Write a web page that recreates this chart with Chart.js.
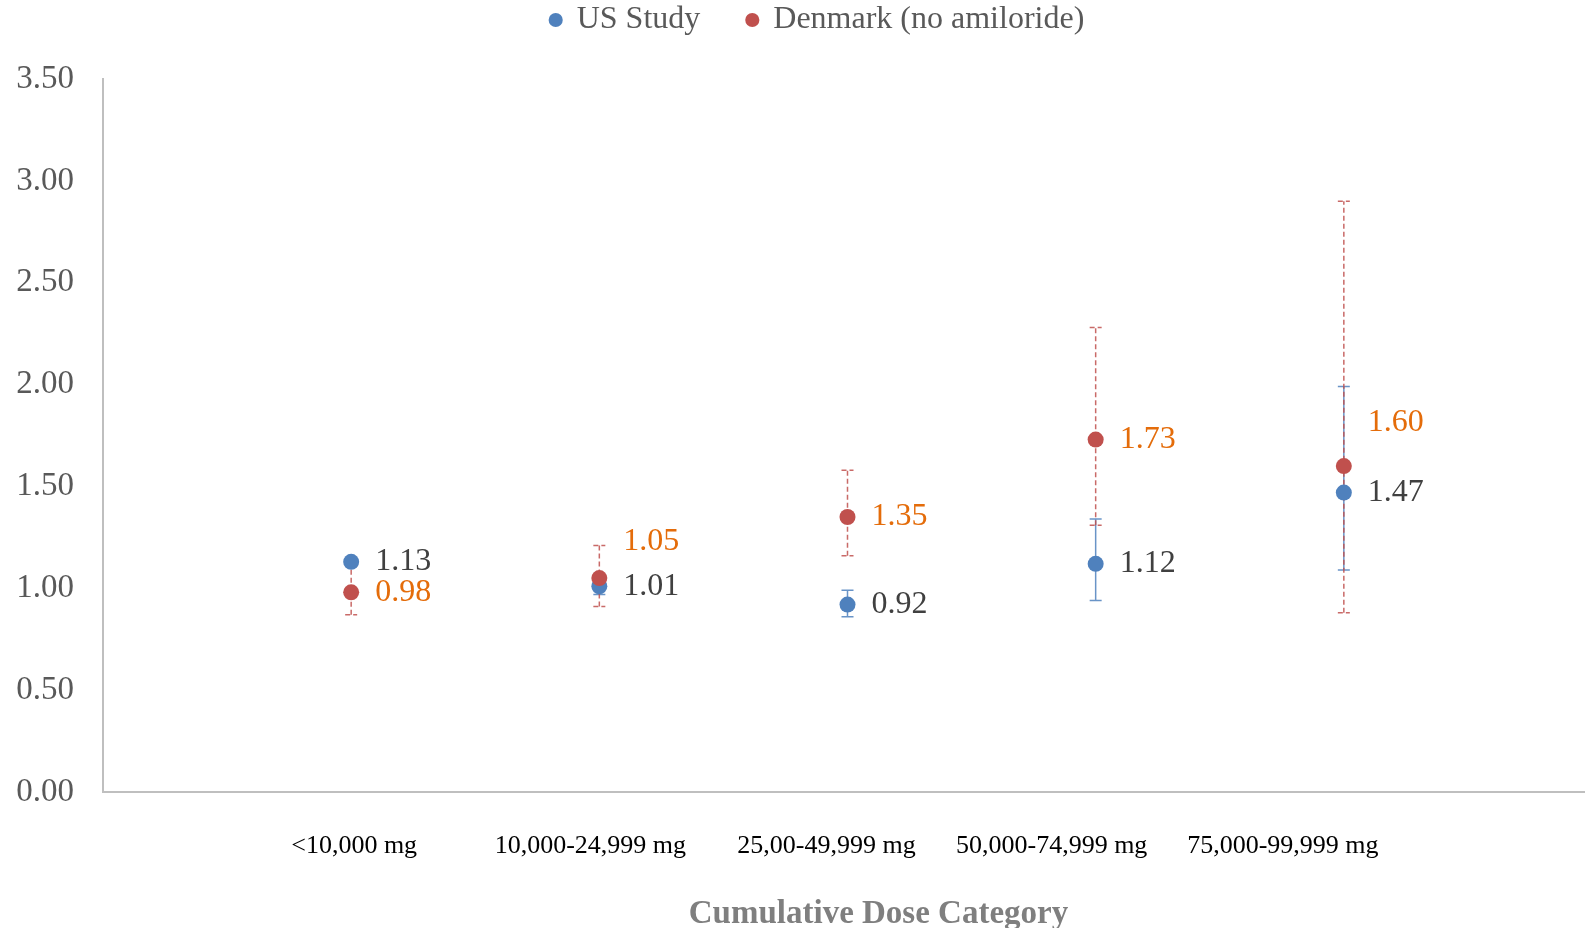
<!DOCTYPE html>
<html>
<head>
<meta charset="utf-8">
<script src="https://cdn.jsdelivr.net/npm/chart.js@4.4.1/dist/chart.umd.min.js"></script>
<style>
  html, body { margin: 0; padding: 0; background: #fff; }
  #wrap { width: 1585px; height: 928px; }
</style>
</head>
<body>
<div id="wrap"><canvas id="myChart" width="1585" height="928"></canvas></div>
<script>
// chart data
const categories = ['<10,000 mg', '10,000-24,999 mg', '25,00-49,999 mg', '50,000-74,999 mg', '75,000-99,999 mg'];
const usValues = [1.13, 1.01, 0.92, 1.12, 1.47];
const usLow = [1.11, 0.97, 0.86, 0.94, 1.09];
const usHigh = [1.15, 1.05, 0.99, 1.34, 1.99];
const dkValues = [0.98, 1.05, 1.35, 1.73, 1.60];
const dkLow = [0.87, 0.91, 1.16, 1.31, 0.88];
const dkHigh = [1.11, 1.21, 1.58, 2.28, 2.90];
const yTicks = [0, 0.5, 1, 1.5, 2, 2.5, 3, 3.5];
const xTitle = 'Cumulative Dose Category';

// empty slot each side so points sit on tick positions like the excel chart
const labels = [''].concat(categories, ['']);
const pad = arr => [null].concat(arr, [null]);

const blue = '#4F81BD';
const red = '#C0504D';

// vertical shift of a few value labels so they don't collide
const labelShift = { 1: { 1: -37, 4: -43 } };
// excel squeezes the category labels a bit to the left of the points
const tickNudge = [3, -9, -21, -44, -61];

const errorBars = {
  id: 'errorBars',
  beforeDatasetsDraw(chart) {
    const ctx = chart.ctx;
    const y = chart.scales.y;
    const sets = [
      { idx: 0, low: usLow, high: usHigh, color: 'rgba(79,129,189,0.85)', dash: [] },
      { idx: 1, low: dkLow, high: dkHigh, color: 'rgba(192,80,77,0.85)', dash: [5, 3] }
    ];
    sets.forEach(s => {
      const meta = chart.getDatasetMeta(s.idx);
      s.low.forEach((lo, i) => {
        const pt = meta.data[i + 1];
        const yl = y.getPixelForValue(lo);
        const yh = y.getPixelForValue(s.high[i]);
        ctx.save();
        ctx.strokeStyle = s.color;
        ctx.lineWidth = 1.5;
        ctx.setLineDash(s.dash);
        ctx.beginPath();
        ctx.moveTo(pt.x, yl);
        ctx.lineTo(pt.x, yh);
        ctx.moveTo(pt.x - 6, yl);
        ctx.lineTo(pt.x + 6, yl);
        ctx.moveTo(pt.x - 6, yh);
        ctx.lineTo(pt.x + 6, yh);
        ctx.stroke();
        ctx.restore();
      });
    });
  }
};

const valueLabels = {
  id: 'valueLabels',
  afterDatasetsDraw(chart) {
    const ctx = chart.ctx;
    const colors = ['#404040', '#E46C0A'];
    [usValues, dkValues].forEach((vals, d) => {
      const meta = chart.getDatasetMeta(d);
      vals.forEach((v, i) => {
        const pt = meta.data[i + 1];
        const shift = (labelShift[d] && labelShift[d][i]) || 0;
        ctx.save();
        ctx.font = '32px "Liberation Serif", serif';
        ctx.fillStyle = colors[d];
        ctx.textAlign = 'left';
        ctx.textBaseline = 'middle';
        ctx.fillText(v.toFixed(2), pt.x + 24, pt.y + shift);
        ctx.restore();
      });
    });
  }
};

// x axis: the excel plot runs a few px past the canvas edge,
// tick labels are nudged and the title sits a bit right of centre
const xAxisExtras = {
  id: 'xAxisExtras',
  afterLayout(chart) {
    const sx = chart.scales.x;
    sx.right += 7;
    sx.width += 7;
    sx.configure();
  },
  beforeDraw(chart) {
    const sx = chart.scales.x;
    const items = sx._computeLabelItems(chart.chartArea);
    items.forEach(it => {
      const k = categories.indexOf(it.label);
      if (k >= 0) it.options.translation[0] += tickNudge[k];
    });
    sx._labelItems = items;
  },
  afterDraw(chart) {
    const ctx = chart.ctx;
    const sx = chart.scales.x;
    ctx.save();
    ctx.font = 'bold 33px "Liberation Serif", serif';
    ctx.fillStyle = '#7F7F7F';
    ctx.textAlign = 'center';
    ctx.textBaseline = 'middle';
    ctx.fillText(xTitle, (sx.left + sx.right) / 2 + 31, sx.bottom - 14);
    ctx.restore();
  }
};

// legend padding is big (item gap), so it starts above the canvas and
// reserves exactly the space down to the plot top.
// lineWidths trimmed a bit so the centred legend sits ~25px further right
const legendSpace = {
  id: 'legendSpace',
  afterInit(chart) {
    const lg = chart.legend;
    const fit = lg.fit;
    lg.fit = function () {
      fit.call(this);
      this.height = 79 + 43;
      this.lineWidths = this.lineWidths.map(w => w - 50);
    };
  }
};

function myLoadFunction() {
  const ctx = document.getElementById('myChart').getContext('2d');
  const config = {
    type: 'line',
    data: {
      labels: labels,
      datasets: [
        {
          label: 'US Study',
          data: pad(usValues),
          showLine: false,
          backgroundColor: blue,
          borderColor: blue,
          pointRadius: 8,
          pointBorderWidth: 0,
          order: 1
        },
        {
          label: 'Denmark (no amiloride)',
          data: pad(dkValues),
          showLine: false,
          backgroundColor: red,
          borderColor: red,
          pointRadius: 8,
          pointBorderWidth: 0,
          order: 0
        }
      ]
    },
    options: {
      responsive: false,
      animation: false,
      layout: { autoPadding: false, padding: { top: -43, left: 0, right: 0, bottom: 0 } },
      plugins: {
        tooltip: { enabled: false },
        legend: {
          position: 'top',
          labels: {
            usePointStyle: true,
            pointStyle: 'circle',
            boxWidth: 10,
            boxHeight: 10,
            padding: 47,
            color: '#595959',
            font: { family: '"Liberation Serif", serif', size: 32 },
            sort: (a, b) => a.datasetIndex - b.datasetIndex
          }
        }
      },
      scales: {
        x: {
          type: 'category',
          offset: false,
          // tick length (not drawn) pushes the labels down without adding side padding
          grid: { display: false, drawTicks: true, tickLength: 39 },
          border: { display: true, color: '#BFBFBF', width: 2 },
          ticks: {
            autoSkip: false,
            maxRotation: 0,
            padding: 0,
            color: '#000',
            font: { family: '"Liberation Serif", serif', size: 26 }
          },
          title: { display: false },
          afterFit: s => { s.height = 136; }
        },
        y: {
          min: 0,
          max: 3.5,
          grid: { display: false, drawTicks: false },
          border: { display: true, color: '#BFBFBF', width: 2 },
          afterBuildTicks: s => { s.ticks = yTicks.map(v => ({ value: v })); },
          ticks: {
            padding: 29,
            color: '#595959',
            font: { family: '"Liberation Serif", serif', size: 33 },
            callback: v => Number(v).toFixed(2)
          },
          afterFit: s => { s.width = 103; }
        }
      }
    },
    plugins: [errorBars, valueLabels, xAxisExtras, legendSpace]
  };
  const myChart = new Chart(ctx, config);
}

document.addEventListener('DOMContentLoaded', myLoadFunction);
</script>
</body>
</html>
